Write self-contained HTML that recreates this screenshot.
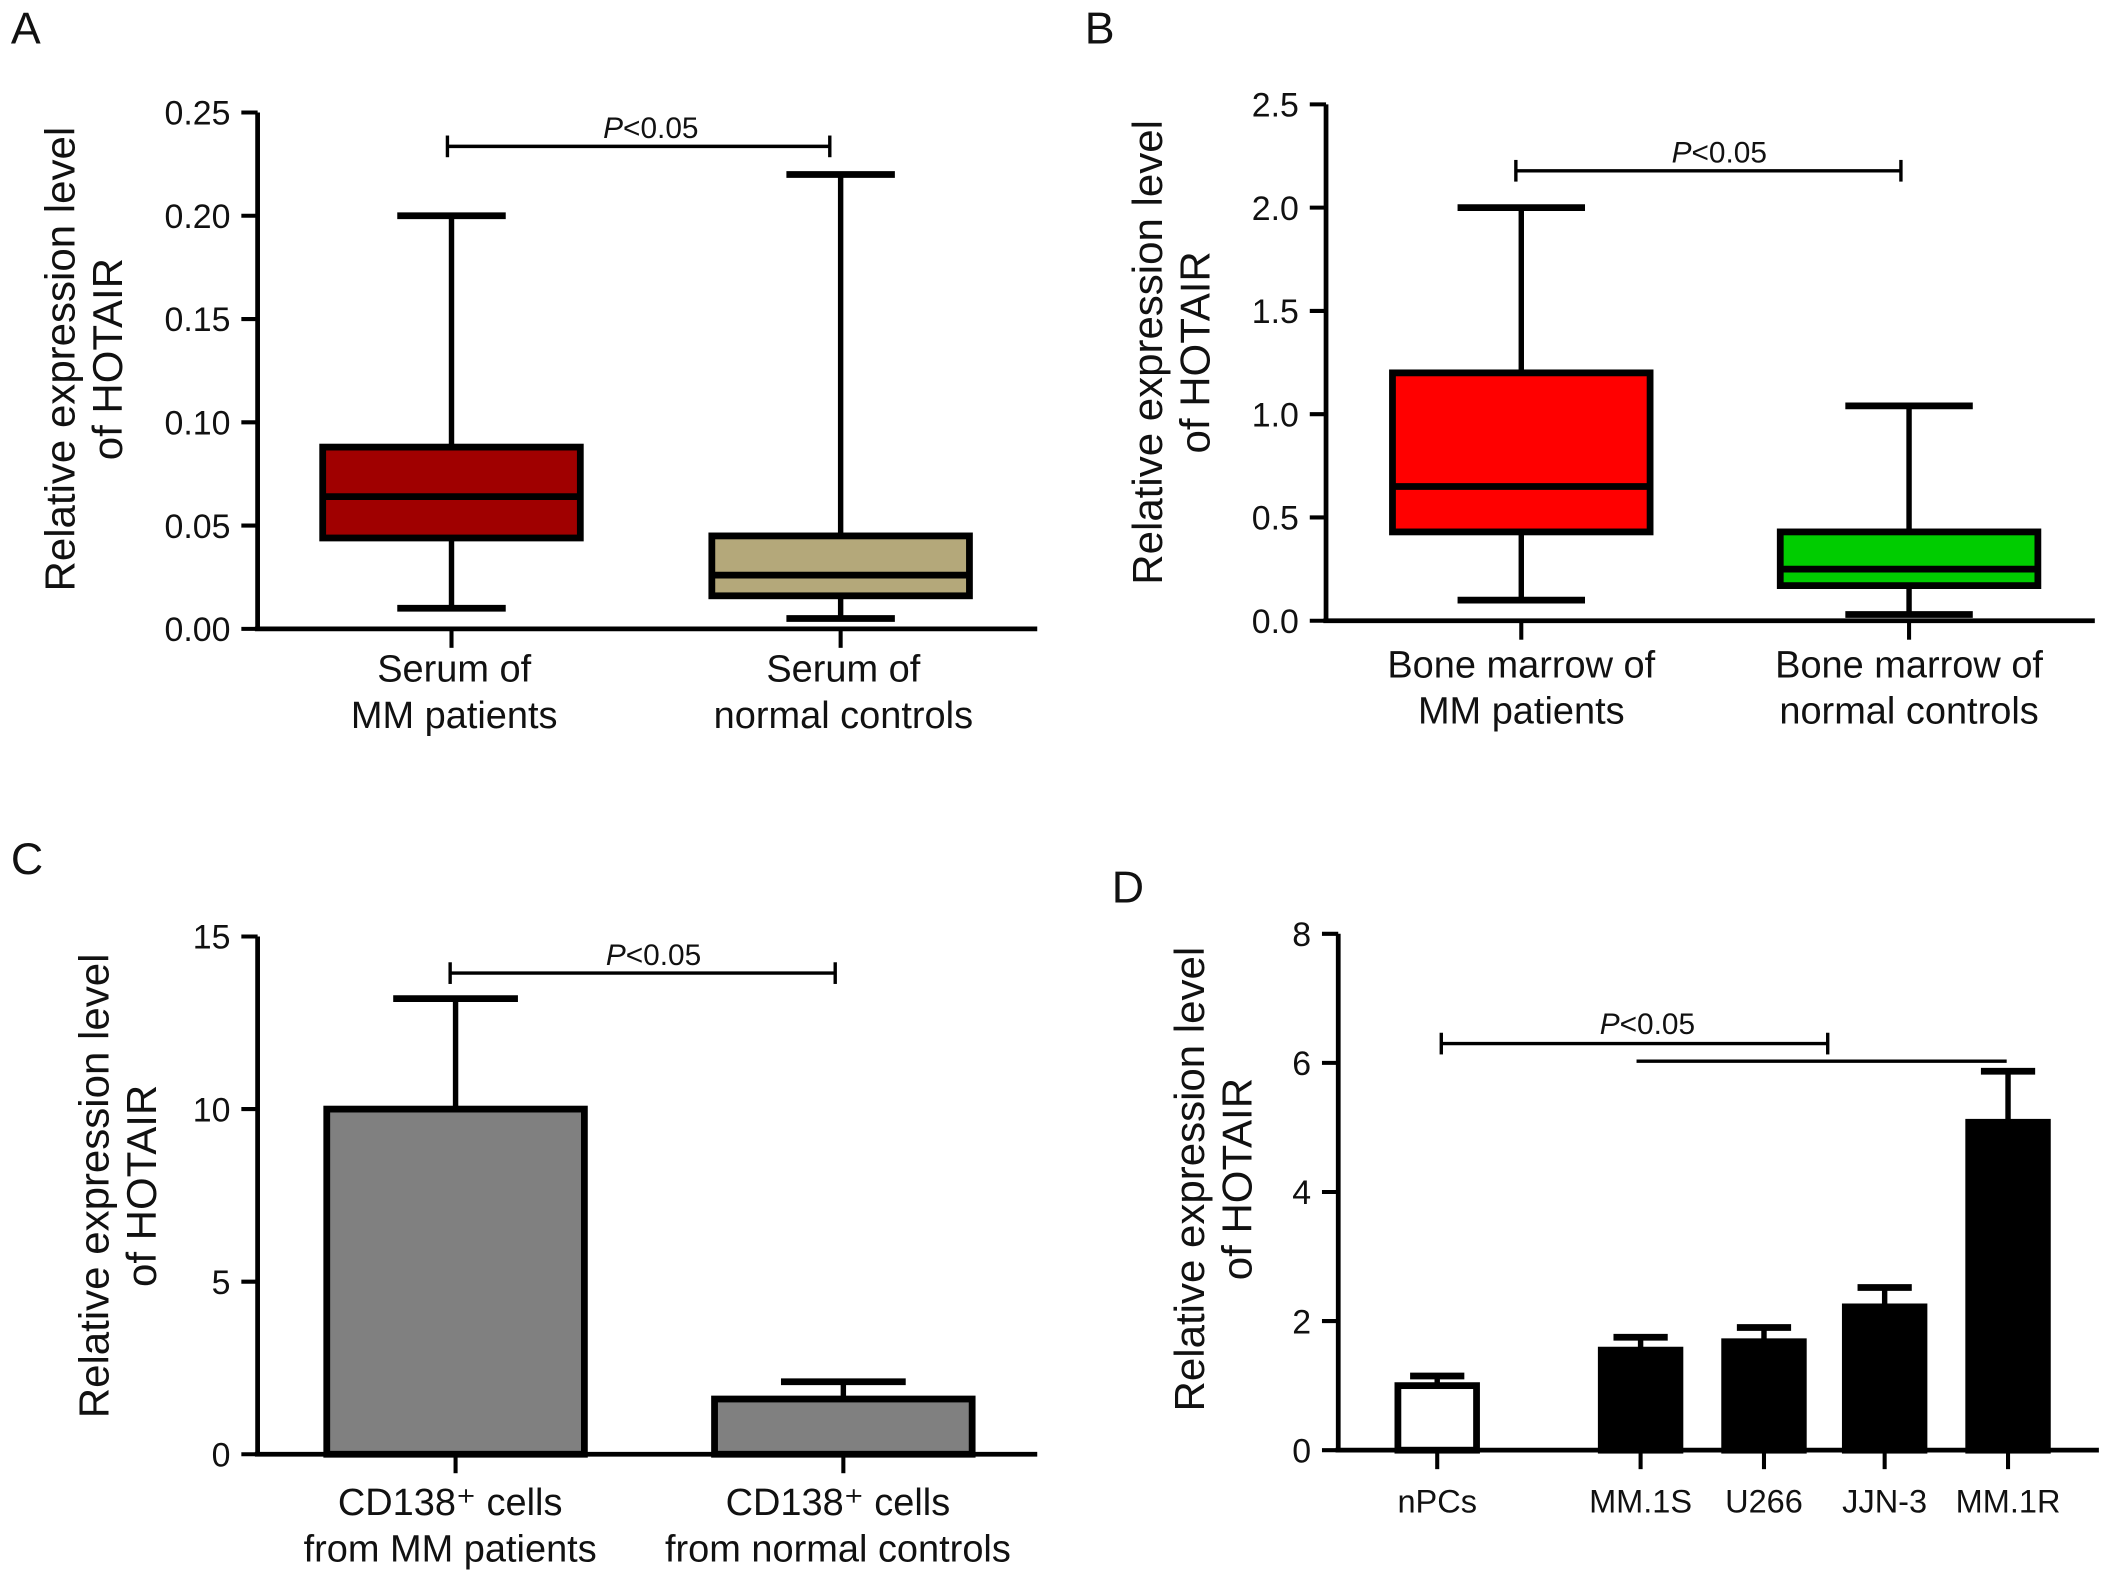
<!DOCTYPE html>
<html><head><meta charset="utf-8"><style>
html,body{margin:0;padding:0;background:#fff;}
svg{display:block;font-family:"Liberation Sans",Arial,sans-serif;}
</style></head><body>
<svg id="fig" width="2126" height="1583" viewBox="0 0 1568 1168" preserveAspectRatio="none" xmlns="http://www.w3.org/2000/svg"></svg>
<script>
// Panel A data
const aCats = ["Serum of|MM patients", "Serum of|normal controls"];
const aMin = [0.01, 0.005];
const aQ1 = [0.044, 0.016];
const aMed = [0.064, 0.026];
const aQ3 = [0.088, 0.045];
const aMax = [0.20, 0.22];
const aTicks = ["0.00","0.05","0.10","0.15","0.20","0.25"];
const aTickVals = [0,0.05,0.10,0.15,0.20,0.25];
// Panel B data
const bCats = ["Bone marrow of|MM patients", "Bone marrow of|normal controls"];
const bMin = [0.1, 0.03];
const bQ1 = [0.43, 0.17];
const bMed = [0.65, 0.25];
const bQ3 = [1.2, 0.43];
const bMax = [2.0, 1.04];
const bTicks = ["0.0","0.5","1.0","1.5","2.0","2.5"];
const bTickVals = [0,0.5,1.0,1.5,2.0,2.5];
// Panel C data
const cCats = ["CD138⁺ cells|from MM patients", "CD138⁺ cells|from normal controls"];
const cVals = [10.0, 1.6];
const cErr = [13.2, 2.1];
const cTicks = ["0","5","10","15"];
const cTickVals = [0,5,10,15];
// Panel D data
const dCats = ["nPCs","MM.1S","U266","JJN-3","MM.1R"];
const dVals = [1.0, 1.55, 1.68, 2.22, 5.08];
const dErr = [1.15, 1.75, 1.9, 2.52, 5.87];
const dTicks = ["0","2","4","6","8"];
const dTickVals = [0,2,4,6,8];

const svg = document.getElementById('fig');
const NS = "http://www.w3.org/2000/svg";
function mk(tag, attrs, parent){
  const e = document.createElementNS(NS, tag);
  for (const k in attrs) e.setAttribute(k, attrs[k]);
  (parent||svg).appendChild(e);
  return e;
}
function txt(x,y,s,size,anchor,parent,extra){
  const t = mk('text',Object.assign({x:x,y:y,'font-size':size,'text-anchor':anchor||'middle',fill:'#111'},extra||{}),parent);
  t.textContent = s;
  return t;
}
function line(x1,y1,x2,y2,w,parent){
  return mk('line',{x1:x1,y1:y1,x2:x2,y2:y2,stroke:'#000','stroke-width':w||3.5},parent);
}
function panel(name, letter, lx, ly, ax, y0, yTop, xEnd, vmax, ticks, tickVals, ytitleX, ytitleY, tickSize){
  const g = mk('g',{});
  
  
  const L = txt(lx, ly, letter, 33, 'start', g);
  
  
  const yScale = v => y0 - (v/vmax)*(y0-yTop);
  const yAxis = line(ax, yTop, ax, y0, 3.5, g);
  
  
  const xAxis = line(ax-2, y0, xEnd, y0, 3.5, g);
  
  
  tickVals.forEach((v,i)=>{
    const y = yScale(v);
    line(ax-12, y, ax, y, 3, g);
    const t = txt(ax-20, y+9, ticks[i], tickSize||25, 'end', g);
    
    
  });
  const tt = mk('text',{transform:`translate(${ytitleX},${ytitleY}) rotate(-90)`,'font-size':31,'text-anchor':'middle',fill:'#111'},g);
  
  
  const t1 = mk('tspan',{x:0,y:0},tt); t1.textContent = "Relative expression level";
  const t2 = mk('tspan',{x:0,y:35},tt); t2.textContent = "of HOTAIR";
  return {g, yScale};
}
function catLabel(g, name, x, y, s, size){
  const parts = s.split('|');
  parts.forEach((p,i)=>{
    const t = txt(x, y+i*34, p, size||28, 'middle', g);
    
    
  });
}
function bracket(g, name, x1, x2, y, tx, ty, ticks){
  const b = mk('g',{},g);
  
  
  line(x1, y, x2, y, 2.5, b);
  if (ticks !== false){ line(x1, y-8, x1, y+8, 2.5, b); line(x2, y-8, x2, y+8, 2.5, b); }
  const t = mk('text',{x:tx,y:ty,'font-size':22,'text-anchor':'middle',fill:'#111'},b);
  const i = mk('tspan',{'font-style':'italic'},t); i.textContent='P';
  const r = mk('tspan',{},t); r.textContent='<0.05';
}
function boxes(p, name, centers, mins, q1, med, q3, max, colors, halfW, capW){
  centers.forEach((cx,i)=>{
    const b = mk('g',{},p.g);
    
    
    line(cx, p.yScale(max[i]), cx, p.yScale(q3[i]), 4, b);
    line(cx, p.yScale(q1[i]), cx, p.yScale(mins[i]), 4, b);
    line(cx-capW, p.yScale(max[i]), cx+capW, p.yScale(max[i]), 5, b);
    line(cx-capW, p.yScale(mins[i]), cx+capW, p.yScale(mins[i]), 5, b);
    mk('rect',{x:cx-halfW,y:p.yScale(q3[i]),width:halfW*2,height:p.yScale(q1[i])-p.yScale(q3[i]),fill:colors[i],stroke:'#000','stroke-width':5},b);
    line(cx-halfW, p.yScale(med[i]), cx+halfW, p.yScale(med[i]), 5, b);
  });
}
function bars(p, name, centers, vals, err, colors, halfW, capW, y0){
  centers.forEach((cx,i)=>{
    const b = mk('g',{},p.g);
    
    
    line(cx, p.yScale(err[i]), cx, p.yScale(vals[i]), 4, b);
    line(cx-capW, p.yScale(err[i]), cx+capW, p.yScale(err[i]), 5, b);
    mk('rect',{x:cx-halfW,y:p.yScale(vals[i]),width:halfW*2,height:y0-p.yScale(vals[i]),fill:colors[i],stroke:'#000','stroke-width':5},b);
  });
}

// Panel A
const pA = panel('panel-a','A',8,32,190,464,83,765,0.25,aTicks,aTickVals,55,265);
const aX = [333, 620];
boxes(pA,'panel-a',aX,aMin,aQ1,aMed,aQ3,aMax,['#a00000','#b4a87a'],95,40);
aX.forEach((x,i)=>{ line(x,464,x,478,3,pA.g); catLabel(pA.g,'panel-a-category-label',x+2,503,aCats[i]); });
bracket(pA.g,'panel-a-significance',330,612,108,480,102);

// Panel B
const pB = panel('panel-b','B',800,32,978,458,77,1545,2.5,bTicks,bTickVals,857,260);
const bX = [1122, 1408];
boxes(pB,'panel-b',bX,bMin,bQ1,bMed,bQ3,bMax,['#ff0000','#00cc00'],95,47);
bX.forEach((x,i)=>{ line(x,458,x,472,3,pB.g); catLabel(pB.g,'panel-b-category-label',x,500,bCats[i]); });
bracket(pB.g,'panel-b-significance',1118,1402,126,1268,120);

// Panel C
const pC = panel('panel-c','C',8,645,190,1073,691,765,15,cTicks,cTickVals,80,875);
const cX = [336, 622];
bars(pC,'panel-c',cX,cVals,cErr,['#808080','#808080'],95,46,1073);
cX.forEach((x,i)=>{ line(x,1073,x,1087,3,pC.g); catLabel(pC.g,'panel-c-category-label',x-4,1118,cCats[i]); });
bracket(pC.g,'panel-c-significance',332,616,718,482,712);

// Panel D
const pD = panel('panel-d','D',820,666,987,1070,689,1548,8,dTicks,dTickVals,888,870);
const dX = [1060, 1210, 1301, 1390, 1481];
bars(pD,'panel-d',dX,dVals,dErr,['#ffffff','#000','#000','#000','#000'],29,20,1070);
dX.forEach((x,i)=>{ line(x,1070,x,1084,3,pD.g);
  const t = txt(x,1116,dCats[i],24,'middle',pD.g);
  
  
});
bracket(pD.g,'panel-d-significance',1063,1348,770,1215,763);
const l2 = line(1207,783,1480,783,2.5,pD.g);


</script>
</body></html>
